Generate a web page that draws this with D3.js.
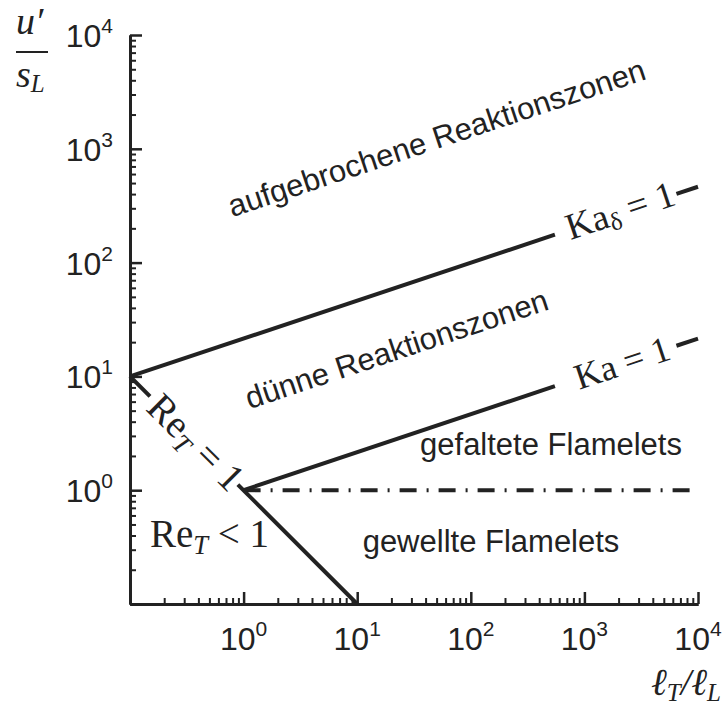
<!DOCTYPE html>
<html><head><meta charset="utf-8">
<script src="https://cdn.jsdelivr.net/npm/d3@7"></script>
<style>
body{margin:0;background:#fff;}
svg{display:block;}
</style></head>
<body>
<svg id="c" width="723" height="707"></svg>
<script>
// ---- data ----
const xDomain = [0.1, 10000];
const yDomain = [0.1, 10000];
const xMajorTicks = [0.1, 1, 10, 100, 1000, 10000];
const yMajorTicks = [0.1, 1, 10, 100, 1000, 10000];
const xTickLabels = [["10","0"],["10","1"],["10","2"],["10","3"],["10","4"]];
const xTickLabelValues = [1, 10, 100, 1000, 10000];
const yTickLabels = [["10","0"],["10","1"],["10","2"],["10","3"],["10","4"]];
const yTickLabelValues = [1, 10, 100, 1000, 10000];
// boundary lines (segments broken where labels sit)
const kaDeltaLine = [[[0.1, 10], [550, 176]], [[6460, 401], [10000, 464]]];
const kaLine = [[[1, 1], [550, 8.2]], [[6460, 18.6], [10000, 21.5]]];
const reLine = [[[0.1, 10], [0.15, 6.67]], [[0.89, 1.12], [10, 0.1]]];
const flameletLine = [[1, 1], [10000, 1]];
// region labels: [text, x, y, angle]
const regionLabels = [
  ["aufgebrochene Reaktionszonen", 53.6, 1016, -18.43],
  ["dünne Reaktionszonen", 23.8, 14.2, -18.43],
  ["gefaltete Flamelets", 508, 2.04, 0],
  ["gewellte Flamelets", 150.6, 0.286, 0]
];

// ---- chart ----
const svg = d3.select("#c");
const x = d3.scaleLog().domain(xDomain).range([130, 698]);
const y = d3.scaleLog().domain(yDomain).range([604, 35]);

const minor = [];
for (let e = -1; e < 4; e++) for (let m = 2; m <= 9; m++) minor.push(m * Math.pow(10, e));

function styleAxis(g, w) {
  g.selectAll("path.domain").attr("stroke", "#222").attr("stroke-width", 3);
  g.selectAll(".tick line").attr("stroke", "#222").attr("stroke-width", w);
  g.selectAll(".tick text").remove();
}
// x axis
svg.append("g").attr("transform", "translate(0,604)")
  .call(d3.axisBottom(x).tickValues(minor).tickSizeInner(-6).tickSizeOuter(0).tickFormat(""))
  .call(g => styleAxis(g, 2));
svg.append("g").attr("transform", "translate(0,604)")
  .call(d3.axisBottom(x).tickValues(xMajorTicks).tickSizeInner(-12).tickSizeOuter(0).tickFormat(""))
  .call(g => styleAxis(g, 2.5));
// y axis
svg.append("g").attr("transform", "translate(130,0)")
  .call(d3.axisLeft(y).tickValues(minor).tickSizeInner(-6).tickSizeOuter(0).tickFormat(""))
  .call(g => styleAxis(g, 2));
svg.append("g").attr("transform", "translate(130,0)")
  .call(d3.axisLeft(y).tickValues(yMajorTicks).tickSizeInner(-12).tickSizeOuter(0).tickFormat(""))
  .call(g => styleAxis(g, 2.5));

const sans = "'Liberation Sans', Arial, Helvetica, sans-serif";
const serif = "'Liberation Serif', 'Times New Roman', serif";

// tick labels
xTickLabelValues.forEach((v, i) => {
  const t = svg.append("text").attr("x", x(v)).attr("y", 650)
    .attr("text-anchor", "middle").attr("font-family", sans).attr("font-size", 32).attr("fill", "#222");
  t.append("tspan").text(xTickLabels[i][0]);
  t.append("tspan").attr("dy", -14).attr("font-size", 21).text(xTickLabels[i][1]);
});
yTickLabelValues.forEach((v, i) => {
  const t = svg.append("text").attr("x", 113).attr("y", y(v) + 12)
    .attr("text-anchor", "end").attr("font-family", sans).attr("font-size", 32).attr("fill", "#222");
  t.append("tspan").text(yTickLabels[i][0]);
  t.append("tspan").attr("dy", -14).attr("font-size", 21).text(yTickLabels[i][1]);
});

// axis titles
const yt = svg.append("g").attr("font-family", serif).attr("font-style", "italic").attr("fill", "#222");
yt.append("text").attr("x", 16).attr("y", 34).attr("font-size", 38).text("u′");
yt.append("line").attr("x1", 16).attr("x2", 48).attr("y1", 52).attr("y2", 52).attr("stroke", "#222").attr("stroke-width", 2);
const st = yt.append("text").attr("x", 16).attr("y", 87).attr("font-size", 38);
st.append("tspan").text("s");
st.append("tspan").attr("dy", 5).attr("font-size", 25).text("L");

const xt = svg.append("text").attr("x", 721).attr("y", 695).attr("text-anchor", "end")
  .attr("font-family", serif).attr("font-style", "italic").attr("font-size", 38).attr("fill", "#222");
xt.append("tspan").text("ℓ");
xt.append("tspan").attr("dy", 6).attr("font-size", 25).text("T");
xt.append("tspan").attr("dy", -6).text("/ℓ");
xt.append("tspan").attr("dy", 6).attr("font-size", 25).text("L");

// lines
const line = d3.line().x(d => x(d[0])).y(d => y(d[1]));
[kaDeltaLine, kaLine, reLine].forEach(segs => segs.forEach(s => {
  svg.append("path").attr("d", line(s)).attr("fill", "none").attr("stroke", "#222").attr("stroke-width", 4);
}));
svg.append("path").attr("d", line(flameletLine)).attr("fill", "none").attr("stroke", "#222")
  .attr("stroke-width", 4).attr("stroke-dasharray", "17,10,2,10");

// region labels
regionLabels.forEach(([txt, vx, vy, rot]) => {
  svg.append("text").attr("transform", `translate(${x(vx)},${y(vy)}) rotate(${rot})`)
    .attr("text-anchor", "middle").attr("font-family", sans).attr("font-size", 31).attr("fill", "#222").text(txt);
});

// math labels
function mathLabel(vx, vy, rot, parts, size, anchor) {
  const t = svg.append("text").attr("transform", `translate(${x(vx)},${y(vy)}) rotate(${rot})`)
    .attr("text-anchor", anchor).attr("font-family", serif).attr("font-size", size).attr("fill", "#222")
    .attr("dy", anchor === "middle" ? "0.33em" : null);
  parts.forEach(p => {
    const s = t.append("tspan").text(p.t);
    if (p.sub) s.attr("dy", p.dy).attr("font-size", size * 0.68);
    if (p.it) s.attr("font-style", "italic");
    if (p.back) s.attr("dy", p.back);
  });
}
mathLabel(0.38, 2.63, 45, [{t:"Re"},{t:"T", sub:true, dy:7, it:true},{t:" = 1", back:-7}], 39, "middle");
mathLabel(0.15, 0.317, 0, [{t:"Re"},{t:"T", sub:true, dy:7, it:true},{t:" < 1", back:-7}], 39, "start");
mathLabel(2060, 286, -18.43, [{t:"Ka"},{t:"δ", sub:true, dy:5},{t:" = 1", back:-5}], 37, "middle");
mathLabel(2150, 13.1, -18.43, [{t:"Ka = 1"}], 36, "middle");
</script>
</body></html>
